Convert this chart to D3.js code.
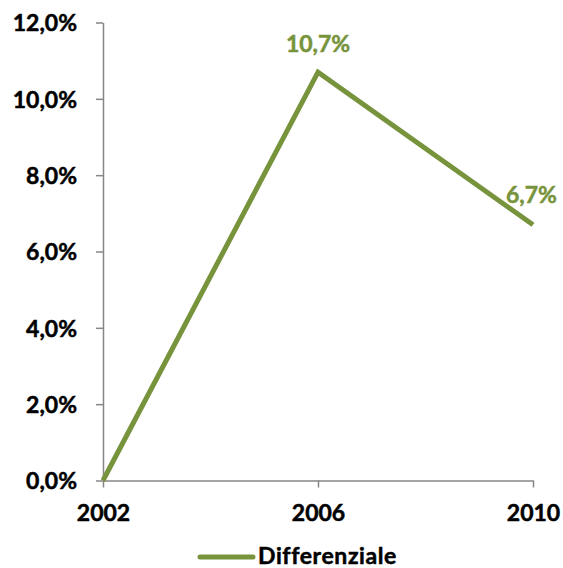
<!DOCTYPE html>
<html><head><meta charset="utf-8">
<script src="https://cdn.jsdelivr.net/npm/d3@7"></script>
<style>body{margin:0;background:#fff}svg{display:block}text{font-family:Lato,"Open Sans",sans-serif;font-weight:bold}</style>
</head><body>
<script>
const years = ["2002","2006","2010"];
const values = [0.0, 10.7, 6.7];
const labels = [null, "10,7%", "6,7%"];
const yTicks = [0,2,4,6,8,10,12];
const seriesName = "Differenziale";
const color = "#77933C";

const W=563,H=568;
const svg=d3.select("body").append("svg").attr("width",W).attr("height",H);
const x=d3.scalePoint().domain(years).range([103,533]);
const y=d3.scaleLinear().domain([0,12]).range([480.5,22.5]);
const fmt=v=>v.toFixed(1).replace(".",",")+"%";

const axisColor="#868686";
// Y axis
const ya=svg.append("g").attr("transform","translate(103,0)").call(d3.axisLeft(y).tickValues(yTicks).tickSize(7).tickSizeOuter(0).tickFormat(fmt).tickPadding(19));
ya.select(".domain").attr("stroke",axisColor).attr("stroke-width",1.5);
ya.selectAll(".tick line").attr("stroke",axisColor).attr("stroke-width",1.5);
ya.selectAll(".tick text").attr("fill","#000").attr("stroke","#000").attr("stroke-width",0.5).style("font-size","23px").attr("font-family",null).attr("dy","0.36em");
// X axis
const xa=svg.append("g").attr("transform","translate(0,480.5)").call(d3.axisBottom(x).tickSize(7).tickSizeOuter(0).tickPadding(18));
xa.select(".domain").attr("stroke",axisColor).attr("stroke-width",1.5);
xa.selectAll(".tick line").attr("stroke",axisColor).attr("stroke-width",1.5);
xa.selectAll(".tick text").attr("fill","#000").attr("stroke","#000").attr("stroke-width",0.5).style("font-size","23px").attr("font-family",null).attr("dy","0.68em");

// line
const data=years.map((d,i)=>({y:d,v:values[i],l:labels[i]}));
svg.append("path").datum(data).attr("fill","none").attr("stroke",color).attr("stroke-width",5).attr("stroke-linejoin","miter")
 .attr("d",d3.line().x(d=>x(d.y)).y(d=>y(d.v)));
svg.selectAll(".lbl").data(data.filter(d=>d.l)).join("text").attr("class","lbl")
 .attr("x",d=>x(d.y)-(d.y==="2010"?1.5:0)).attr("y",d=>y(d.v)-(d.y==="2010"?22:20))
 .attr("text-anchor","middle").attr("fill",color).attr("stroke",color).attr("stroke-width",0.5).style("font-size","23px").text(d=>d.l);

// legend
svg.append("line").attr("x1",200).attr("x2",253).attr("y1",557).attr("y2",557).attr("stroke",color).attr("stroke-width",5).attr("stroke-linecap","round");
svg.append("text").attr("x",258).attr("y",564).attr("fill","#000").attr("stroke","#000").attr("stroke-width",0.5).style("font-size","23px").style("letter-spacing","0.6px").text(seriesName);
</script>
</body></html>
